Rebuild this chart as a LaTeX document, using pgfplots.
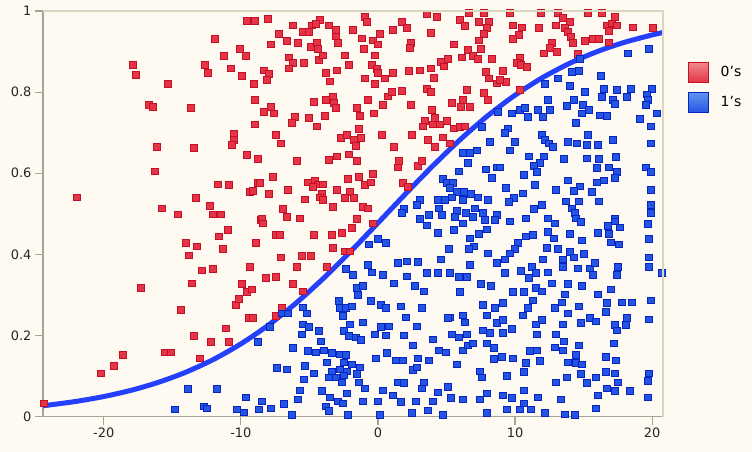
\documentclass[border=0pt]{standalone}
\usepackage{fontspec}
\setmainfont{DejaVu Sans}
\usepackage{pgfplots}
\pgfplotsset{compat=1.18}
\definecolor{bg}{RGB}{255,250,241}
\definecolor{rfill}{RGB}{228,52,70}
\definecolor{rdraw}{RGB}{196,16,38}
\definecolor{rlight}{RGB}{240,135,140}
\definecolor{bfill}{RGB}{36,84,228}
\definecolor{bdraw}{RGB}{8,36,190}
\definecolor{blight}{RGB}{95,150,235}
\definecolor{curvecol}{RGB}{36,64,252}
\definecolor{axgray}{RGB}{165,162,150}
\definecolor{axlight}{RGB}{216,216,190}
\begin{document}
\begin{tikzpicture}
\fill[bg] (-43bp,-35.3bp) rectangle (709bp,416.7bp);
\begin{axis}[
  name=ax, at={(0,0)}, anchor=south west,
  scale only axis, width=620bp, height=405.7bp,
  xmin=-24.43, xmax=20.79, ymin=0, ymax=1,
  axis x line*=bottom, axis y line*=left,
  axis line style={axgray, line width=1.5bp, -},
  xtick={-20,-10,0,10,20}, ytick={0,0.2,0.4,0.6,0.8,1},
  tick align=outside, major tick length=8bp,
  tick style={axgray, line width=1.2bp},
  every tick label/.append style={font=\fontsize{13}{15}\selectfont, text=black!85},
  /pgf/number format/assume math mode=true,
  legend style={at={(1.04,0.875)}, anchor=north west, draw=none, fill=none,
    inner sep=0pt, row sep=9bp, font=\fontsize{14}{16}\selectfont,
    nodes={inner sep=1bp}},
  legend cell align=left,
]
\addplot[only marks, draw=rdraw, fill=rfill, mark=square*, mark size=3.2bp,
  mark options={line width=0.9bp, solid},
  legend image code/.code={\draw[draw=rdraw, line width=1bp, top color=rlight, bottom color=rfill] (0bp,-10bp) rectangle (20bp,10bp); \path (31bp,0bp);}]
table {
x y
-9.55 0.975
-11.88 0.931
-10.06 0.906
-9.62 0.889
-11.23 0.889
-17.86 0.867
-12.61 0.867
-17.64 0.842
-12.39 0.847
-10.72 0.859
-9.91 0.840
-15.31 0.820
-16.69 0.768
-16.40 0.763
-13.63 0.761
-10.50 0.697
-10.50 0.682
-10.64 0.670
-16.11 0.665
-13.41 0.662
-9.55 0.645
-16.26 0.605
-11.66 0.573
-10.86 0.571
-9.33 0.554
-21.94 0.541
-13.27 0.539
-15.75 0.514
-12.25 0.519
-12.03 0.499
-11.45 0.499
-14.58 0.499
-24.35 0.033
-20.19 0.107
-19.25 0.125
-18.59 0.152
-17.28 0.317
-15.53 0.159
-15.09 0.159
-14.36 0.263
-14.00 0.428
-13.78 0.398
-13.19 0.420
-13.56 0.329
-13.41 0.199
-12.98 0.144
-12.83 0.361
-12.03 0.364
-12.17 0.184
-11.59 0.445
-10.94 0.460
-11.30 0.413
-11.08 0.218
-10.86 0.184
-10.35 0.275
-10.13 0.290
-9.91 0.327
-9.55 0.307
-9.40 0.243
-9.33 0.369
-8.75 0.576
-8.53 0.485
-8.89 0.428
-8.02 0.980
-6.20 0.965
-4.81 0.965
-4.23 0.978
-4.52 0.968
-3.57 0.965
-3.06 0.953
-0.95 0.985
-0.80 0.973
-1.82 0.953
-5.47 0.948
-5.03 0.948
-7.22 0.943
-3.06 0.938
0.15 0.943
1.09 0.953
1.75 0.973
2.11 0.958
3.57 0.993
4.30 0.985
3.86 0.946
5.98 0.978
6.34 0.963
6.63 0.995
7.73 0.995
7.36 0.973
8.09 0.973
7.95 0.958
7.73 0.943
7.36 0.928
-8.97 0.975
-7.80 0.918
-6.63 0.926
-5.83 0.921
-4.88 0.911
-4.45 0.921
-4.37 0.906
-2.92 0.921
-1.17 0.933
-1.02 0.906
-0.36 0.928
0.00 0.918
2.41 0.921
2.33 0.909
5.54 0.918
6.56 0.904
7.51 0.906
6.93 0.889
7.29 0.882
6.12 0.886
8.31 0.882
-6.49 0.886
-4.30 0.879
-4.01 0.891
-6.20 0.872
-5.39 0.872
-6.49 0.859
-2.41 0.891
-2.11 0.867
-0.22 0.891
-0.44 0.867
-0.07 0.857
0.00 0.847
1.09 0.847
-2.99 0.854
-3.79 0.847
-3.50 0.827
-8.31 0.854
-7.95 0.845
-8.09 0.830
-9.04 0.820
-0.95 0.833
-0.22 0.820
0.51 0.833
2.26 0.852
3.06 0.854
3.86 0.859
4.08 0.835
4.59 0.874
5.10 0.882
4.81 0.864
7.87 0.850
8.09 0.833
8.68 0.822
-8.97 0.781
-4.67 0.776
-3.79 0.781
-3.28 0.788
-3.21 0.773
-3.06 0.761
-0.73 0.781
0.73 0.790
1.02 0.800
1.75 0.803
3.57 0.808
3.86 0.800
6.49 0.805
6.20 0.781
6.05 0.763
5.39 0.773
6.71 0.763
7.73 0.798
8.02 0.781
2.41 0.768
0.36 0.768
-1.53 0.761
-8.31 0.751
-7.80 0.763
-7.58 0.748
-6.05 0.739
-6.27 0.724
-5.03 0.736
-4.45 0.716
-3.86 0.741
-1.31 0.741
-0.29 0.748
3.94 0.756
4.16 0.736
3.43 0.729
3.28 0.716
4.01 0.721
4.52 0.721
5.03 0.729
5.54 0.711
5.98 0.714
6.34 0.716
-8.97 0.721
-7.44 0.694
-7.07 0.674
-2.70 0.687
-2.26 0.694
-1.75 0.682
-1.60 0.667
-1.24 0.687
-1.39 0.709
0.29 0.694
2.48 0.694
3.65 0.682
4.16 0.665
4.74 0.689
5.25 0.674
1.17 0.665
-8.75 0.635
-5.90 0.630
-3.57 0.633
-2.99 0.642
-2.11 0.647
-1.53 0.630
1.53 0.630
1.46 0.615
2.92 0.618
3.21 0.630
-7.65 0.591
-8.60 0.576
-9.11 0.556
-7.95 0.549
-6.56 0.559
-5.32 0.536
-5.10 0.578
-4.59 0.583
-4.37 0.573
-4.74 0.566
-4.01 0.573
-4.08 0.551
-4.23 0.541
-4.01 0.534
-2.99 0.559
-2.19 0.586
-2.04 0.554
-2.41 0.539
-1.75 0.539
-1.39 0.591
-0.95 0.571
-0.51 0.578
-0.36 0.598
-6.93 0.512
-3.28 0.517
-1.09 0.517
-0.73 0.514
1.82 0.576
2.19 0.566
-8.46 0.489
-6.63 0.492
-5.69 0.489
-8.38 0.477
-1.53 0.487
-7.44 0.448
-7.14 0.448
-4.67 0.448
-3.35 0.448
-2.62 0.453
-1.90 0.465
-0.36 0.477
-3.28 0.416
-2.41 0.408
-2.04 0.408
-7.07 0.393
-5.54 0.396
-4.88 0.396
-5.90 0.369
-3.72 0.369
-8.17 0.342
-7.44 0.344
-6.20 0.327
-5.47 0.309
-9.19 0.314
-7.00 0.268
-7.44 0.248
-9.11 0.243
9.62 0.995
11.88 0.995
13.12 0.995
15.31 0.995
16.33 0.995
17.28 0.985
13.49 0.983
14.00 0.973
12.98 0.965
9.84 0.965
10.50 0.960
11.74 0.958
13.63 0.958
13.85 0.948
14.07 0.936
14.22 0.921
16.69 0.965
17.06 0.970
17.42 0.965
16.84 0.951
18.59 0.960
20.05 0.958
10.28 0.941
9.84 0.931
15.09 0.926
15.67 0.931
16.11 0.931
16.84 0.923
12.68 0.921
12.54 0.909
13.05 0.899
12.10 0.896
14.58 0.894
10.35 0.886
10.13 0.872
10.42 0.867
10.86 0.862
9.11 0.852
9.33 0.825
8.89 0.830
10.35 0.805
};
\addlegendentry{0's}
\addplot[only marks, draw=bdraw, fill=bfill, mark=square*, mark size=3.2bp,
  mark options={line width=0.9bp, solid},
  legend image code/.code={\draw[draw=bdraw, line width=1bp, top color=blight, bottom color=bfill] (0bp,-10bp) rectangle (20bp,10bp); \path (31bp,0bp);}]
table {
x y
-13.85 0.068
-11.74 0.068
-14.80 0.018
-12.68 0.026
-12.47 0.021
-10.28 0.018
-9.77 0.011
-9.62 0.048
8.75 0.751
7.58 0.714
8.16 0.677
6.20 0.650
6.71 0.650
7.22 0.657
6.56 0.625
7.87 0.610
8.68 0.615
8.31 0.588
5.90 0.605
4.74 0.586
5.03 0.576
5.47 0.576
5.25 0.564
5.76 0.554
6.27 0.554
6.78 0.549
7.29 0.541
6.20 0.534
5.39 0.541
4.37 0.534
4.88 0.534
8.02 0.534
3.06 0.534
2.84 0.522
1.90 0.512
4.45 0.514
5.76 0.507
7.07 0.514
7.65 0.502
4.67 0.497
6.42 0.502
8.68 0.497
3.72 0.497
1.75 0.502
3.06 0.487
3.57 0.472
4.37 0.453
5.61 0.492
6.20 0.477
6.93 0.492
7.80 0.485
8.53 0.485
5.54 0.460
7.36 0.450
7.95 0.462
6.71 0.440
7.00 0.420
6.63 0.413
5.18 0.413
8.02 0.403
8.68 0.379
4.59 0.388
6.71 0.374
0.00 0.438
0.58 0.428
-0.66 0.425
1.46 0.379
2.11 0.383
2.92 0.381
-0.73 0.374
-0.44 0.356
0.36 0.349
-2.33 0.364
-1.82 0.349
1.17 0.329
2.11 0.346
3.57 0.354
4.37 0.354
5.25 0.354
5.90 0.344
6.49 0.344
7.51 0.327
8.24 0.322
2.70 0.322
3.35 0.309
5.98 0.307
-1.53 0.317
-1.09 0.322
-1.46 0.300
-2.84 0.285
-2.77 0.268
-2.33 0.268
-1.90 0.272
-0.51 0.285
0.22 0.275
0.58 0.268
1.68 0.272
3.21 0.268
7.65 0.275
8.53 0.268
5.25 0.245
6.20 0.250
-5.47 0.270
-5.18 0.255
-7.00 0.255
-6.56 0.255
-8.75 0.184
-7.88 0.221
-6.20 0.169
-5.54 0.203
-5.47 0.228
-5.03 0.221
-4.30 0.211
-4.16 0.186
-5.10 0.162
-4.52 0.159
-3.94 0.164
-3.35 0.157
-3.72 0.134
-2.77 0.154
-2.33 0.152
-2.48 0.134
-1.90 0.129
-1.31 0.122
-2.77 0.117
-2.26 0.112
-3.35 0.110
-3.57 0.097
-3.06 0.097
-2.48 0.102
-1.53 0.105
-1.39 0.085
-2.62 0.085
-0.95 0.070
-5.32 0.125
-4.67 0.107
-7.36 0.120
-6.63 0.117
-5.39 0.092
-5.69 0.065
-5.83 0.043
-8.46 0.038
-8.68 0.018
-7.80 0.021
-6.85 0.031
-6.27 0.004
-4.08 0.063
-3.50 0.048
-3.79 0.026
-3.57 0.014
-2.92 0.038
-2.55 0.033
-2.26 0.058
-1.09 0.038
-2.19 0.004
-2.55 0.248
-2.04 0.228
-1.09 0.233
-2.48 0.211
-2.11 0.199
-1.60 0.196
-1.24 0.189
-0.22 0.203
0.22 0.221
0.80 0.223
0.58 0.201
-0.15 0.144
0.66 0.157
1.31 0.139
1.82 0.139
2.55 0.115
2.92 0.144
3.72 0.139
2.84 0.122
1.46 0.085
1.90 0.083
3.35 0.085
3.21 0.070
0.36 0.065
1.09 0.053
1.68 0.036
0.00 0.038
0.15 0.004
2.77 0.038
2.48 0.009
3.65 0.016
4.01 0.038
4.37 0.060
5.10 0.073
5.32 0.046
6.20 0.043
4.74 0.004
2.04 0.245
2.84 0.223
1.90 0.201
2.55 0.176
4.01 0.191
4.45 0.164
4.96 0.159
6.20 0.164
6.56 0.176
6.93 0.181
6.49 0.203
5.90 0.196
5.39 0.203
5.10 0.243
6.34 0.233
7.95 0.250
7.65 0.213
8.16 0.206
7.95 0.181
8.46 0.169
8.68 0.231
8.46 0.142
7.44 0.112
7.58 0.097
7.95 0.058
7.44 0.043
7.95 0.009
5.76 0.129
18.23 0.896
19.76 0.906
14.73 0.882
14.14 0.850
14.65 0.852
13.12 0.833
12.17 0.820
14.00 0.815
16.26 0.840
15.09 0.800
16.48 0.808
17.42 0.805
18.44 0.808
19.98 0.808
19.61 0.795
16.33 0.788
17.13 0.781
18.15 0.788
19.68 0.781
12.39 0.781
14.29 0.781
14.94 0.768
13.78 0.766
17.28 0.771
19.54 0.768
9.77 0.748
10.35 0.756
10.72 0.761
10.94 0.739
11.66 0.756
12.03 0.739
12.54 0.756
14.87 0.748
15.38 0.756
16.18 0.743
16.69 0.741
20.34 0.748
19.10 0.734
19.90 0.716
14.43 0.724
9.48 0.711
9.26 0.699
15.31 0.694
11.96 0.694
12.17 0.682
12.47 0.674
12.76 0.665
13.85 0.677
14.51 0.674
15.24 0.670
16.04 0.670
17.13 0.682
19.90 0.674
9.99 0.677
9.62 0.657
11.01 0.642
12.10 0.642
11.81 0.625
11.37 0.618
11.59 0.603
13.56 0.635
15.24 0.637
16.11 0.635
17.35 0.640
16.84 0.615
17.42 0.603
15.97 0.613
10.64 0.596
19.54 0.615
19.90 0.603
17.28 0.588
13.85 0.583
14.73 0.568
14.29 0.556
15.97 0.578
16.48 0.583
15.60 0.554
16.11 0.531
11.45 0.571
12.98 0.559
9.33 0.564
10.57 0.551
9.91 0.539
9.55 0.529
11.96 0.522
11.37 0.512
13.71 0.531
14.65 0.531
14.14 0.514
14.36 0.502
19.90 0.559
19.90 0.522
8.89 0.615
10.79 0.489
12.39 0.489
17.28 0.489
14.43 0.489
14.80 0.480
9.62 0.482
12.90 0.477
10.79 0.445
11.30 0.448
12.39 0.455
12.83 0.440
14.00 0.450
14.87 0.435
16.04 0.453
16.77 0.470
17.28 0.482
17.64 0.467
16.84 0.450
16.99 0.430
17.57 0.425
19.90 0.502
19.68 0.475
19.76 0.438
10.21 0.428
9.99 0.413
9.62 0.403
9.26 0.388
12.32 0.416
13.12 0.413
14.00 0.406
14.29 0.393
15.02 0.401
13.49 0.388
12.03 0.388
11.23 0.369
11.52 0.354
10.42 0.359
11.01 0.342
12.39 0.356
13.49 0.369
14.58 0.366
15.46 0.366
15.67 0.349
15.82 0.379
17.50 0.369
17.42 0.349
19.76 0.393
19.76 0.369
20.70 0.354
9.26 0.354
9.84 0.307
10.64 0.307
11.52 0.317
11.96 0.309
12.68 0.329
13.85 0.327
14.87 0.322
11.30 0.287
13.63 0.302
12.90 0.268
10.94 0.268
10.57 0.250
9.11 0.280
16.04 0.302
16.99 0.314
17.79 0.282
18.52 0.282
16.69 0.280
16.62 0.258
14.65 0.272
13.85 0.255
19.90 0.287
18.15 0.243
15.46 0.243
19.76 0.240
11.96 0.238
11.52 0.228
13.49 0.228
14.80 0.231
15.90 0.235
17.28 0.226
18.09 0.226
17.42 0.213
9.11 0.238
9.77 0.216
9.11 0.206
11.59 0.203
12.98 0.203
13.56 0.186
14.65 0.176
17.21 0.181
12.90 0.171
13.49 0.164
11.59 0.164
11.08 0.162
14.43 0.152
14.43 0.132
14.87 0.129
13.85 0.134
11.81 0.137
10.79 0.132
10.64 0.110
9.84 0.144
9.04 0.147
9.40 0.100
13.78 0.097
14.80 0.105
12.98 0.085
15.24 0.083
15.90 0.097
16.62 0.110
16.62 0.147
17.35 0.139
17.28 0.107
16.69 0.070
17.28 0.063
18.37 0.063
19.68 0.088
19.76 0.107
19.68 0.048
10.64 0.065
11.66 0.048
9.11 0.053
9.77 0.046
10.64 0.033
10.35 0.018
11.15 0.018
9.40 0.018
12.17 0.009
13.34 0.043
13.63 0.006
14.36 0.004
16.04 0.053
15.90 0.021
17.50 0.085
13.42 0.282
};
\addlegendentry{1's}
\addplot[forget plot, no marks, smooth, curvecol, line width=5bp, line cap=round]
table {
x y
-24.43 0.0271
-24 0.0287
-22 0.0378
-20 0.0497
-18 0.0651
-16 0.0849
-14 0.1099
-12 0.1411
-10 0.1795
-8 0.2255
-6 0.2793
-4 0.3403
-2 0.4071
0 0.4775
2 0.5488
4 0.6182
6 0.6831
8 0.7416
10 0.7925
12 0.8357
14 0.8713
16 0.9001
18 0.9230
20 0.9410
20.79 0.9470
};
\end{axis}
\draw[axlight, line width=1.5bp] (ax.north west) -- (ax.north east) -- (ax.south east);
\pgfresetboundingbox
\path[use as bounding box] (-43bp,-35.3bp) rectangle (709bp,416.7bp);
\end{tikzpicture}
\end{document}
